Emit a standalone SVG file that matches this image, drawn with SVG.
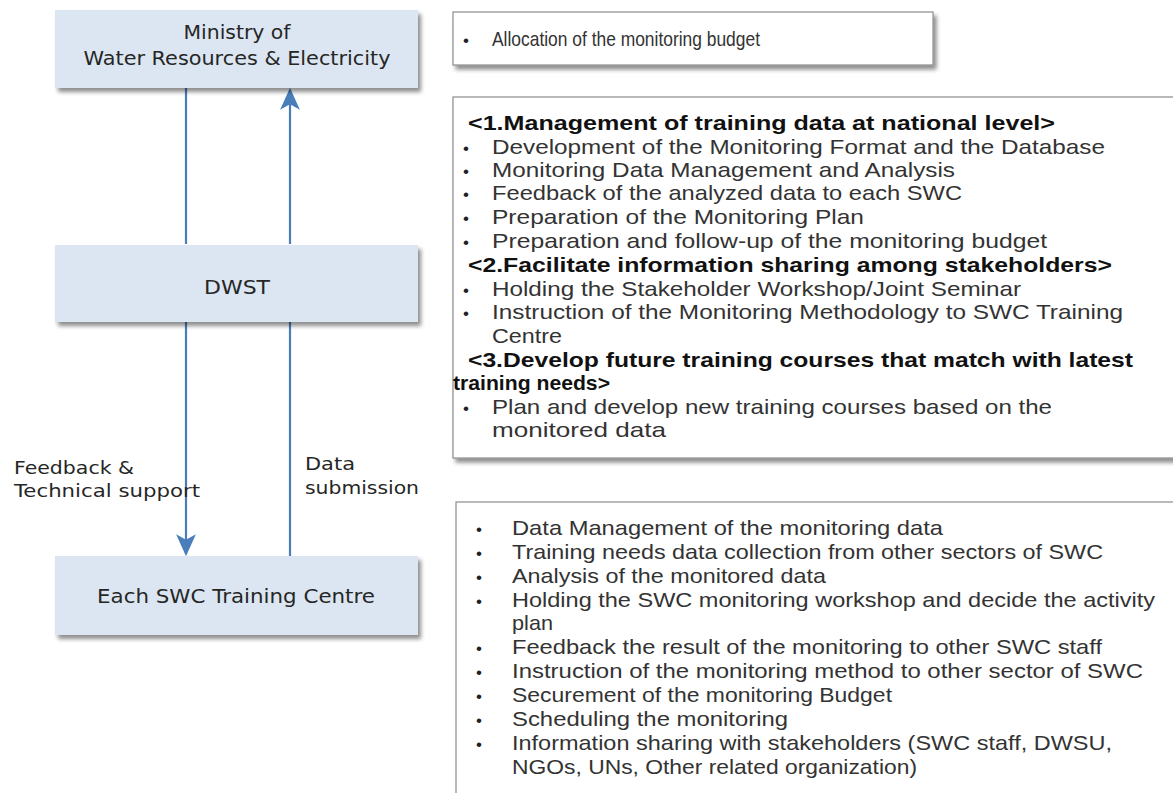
<svg xmlns="http://www.w3.org/2000/svg" width="1173" height="793" viewBox="0 0 1173 793">
<style>
.node{fill:#dce6f2;}
.nt{font-family:"DejaVu Sans","Open Sans",sans-serif;font-size:20px;fill:#262626;}
.lb{font-family:"DejaVu Sans","Open Sans",sans-serif;font-size:18px;fill:#262626;}
.box{fill:#ffffff;stroke:#8c8c8c;stroke-width:1.2;}
.tx{font-family:"Liberation Sans",Arial,sans-serif;font-size:21px;fill:#333333;}
.hd{font-family:"Liberation Sans",Arial,sans-serif;font-size:21px;font-weight:bold;fill:#111111;}
.bu{font-family:"Liberation Sans",Arial,sans-serif;font-size:17px;fill:#222222;}
.cn{stroke:#4a7ebb;stroke-width:2.2;fill:none;}
</style>
<defs>
<filter id="sh" x="-5%" y="-10%" width="115%" height="130%">
<feGaussianBlur in="SourceAlpha" stdDeviation="2"/>
<feOffset dx="3" dy="4"/>
<feComponentTransfer><feFuncA type="linear" slope="0.45"/></feComponentTransfer>
<feMerge><feMergeNode/><feMergeNode in="SourceGraphic"/></feMerge>
</filter>
<marker id="ah" viewBox="0 0 20 20" refX="18" refY="10" markerWidth="10" markerHeight="10" markerUnits="strokeWidth" orient="auto">
<path d="M0,1 L20,10 L0,19 L5,10 Z" fill="#4a7ebb"/>
</marker>
</defs>

<g id="connectors">
<line class="cn" x1="186" y1="88" x2="186" y2="244"/>
<line class="cn" x1="290" y1="244" x2="290" y2="90" marker-end="url(#ah)"/>
<line class="cn" x1="186" y1="322" x2="186" y2="554" marker-end="url(#ah)"/>
<line class="cn" x1="290" y1="556" x2="290" y2="322"/>
</g>

<g id="ministry">
<rect class="node" x="55" y="10" width="363" height="78" filter="url(#sh)"/>
<text class="nt" x="237" y="39" text-anchor="middle" textLength="107" lengthAdjust="spacingAndGlyphs">Ministry of</text>
<text class="nt" x="237" y="65" text-anchor="middle" textLength="307" lengthAdjust="spacingAndGlyphs">Water Resources &amp; Electricity</text>
</g>

<g id="dwst">
<rect class="node" x="55" y="245" width="363" height="77" filter="url(#sh)"/>
<text class="nt" x="237" y="294" text-anchor="middle" textLength="66" lengthAdjust="spacingAndGlyphs">DWST</text>
</g>

<g id="swc">
<rect class="node" x="55" y="556" width="363" height="79" filter="url(#sh)"/>
<text class="nt" x="236" y="603" text-anchor="middle" textLength="278" lengthAdjust="spacingAndGlyphs">Each SWC Training Centre</text>
</g>

<g id="label-feedback">
<text class="lb" x="14" y="474" textLength="120" lengthAdjust="spacingAndGlyphs">Feedback &amp;</text>
<text class="lb" x="14" y="497" textLength="186" lengthAdjust="spacingAndGlyphs">Technical support</text>
</g>
<g id="label-data">
<text class="lb" x="305" y="470" textLength="50" lengthAdjust="spacingAndGlyphs">Data</text>
<text class="lb" x="305" y="494" textLength="114" lengthAdjust="spacingAndGlyphs">submission</text>
</g>

<g id="box-ministry">
<rect class="box" x="453" y="12" width="480" height="53" filter="url(#sh)"/>
<text class="bu" x="463" y="46">•</text>
<text class="tx" x="492" y="46" textLength="268" lengthAdjust="spacingAndGlyphs">Allocation of the monitoring budget</text>
</g>

<g id="box-dwst">
<rect class="box" x="453" y="97" width="730" height="361" filter="url(#sh)"/>
<text class="hd" x="468" y="130" textLength="587" lengthAdjust="spacingAndGlyphs">&lt;1.Management of training data at national level&gt;</text>
<text class="bu" x="463" y="154">•</text>
<text class="tx" x="492" y="154" textLength="613" lengthAdjust="spacingAndGlyphs">Development of the Monitoring Format and the Database</text>
<text class="bu" x="463" y="177">•</text>
<text class="tx" x="492" y="177" textLength="463" lengthAdjust="spacingAndGlyphs">Monitoring Data Management and Analysis</text>
<text class="bu" x="463" y="200">•</text>
<text class="tx" x="492" y="200" textLength="470" lengthAdjust="spacingAndGlyphs">Feedback of the analyzed data to each SWC</text>
<text class="bu" x="463" y="224">•</text>
<text class="tx" x="492" y="224" textLength="372" lengthAdjust="spacingAndGlyphs">Preparation of the Monitoring Plan</text>
<text class="bu" x="463" y="248">•</text>
<text class="tx" x="492" y="248" textLength="555" lengthAdjust="spacingAndGlyphs">Preparation and follow-up of the monitoring budget</text>
<text class="hd" x="468" y="272" textLength="644" lengthAdjust="spacingAndGlyphs">&lt;2.Facilitate information sharing among stakeholders&gt;</text>
<text class="bu" x="463" y="296">•</text>
<text class="tx" x="492" y="296" textLength="529" lengthAdjust="spacingAndGlyphs">Holding the Stakeholder Workshop/Joint Seminar</text>
<text class="bu" x="463" y="319">•</text>
<text class="tx" x="492" y="319" textLength="631" lengthAdjust="spacingAndGlyphs">Instruction of the Monitoring Methodology to SWC Training</text>
<text class="tx" x="492" y="343" textLength="70" lengthAdjust="spacingAndGlyphs">Centre</text>
<text class="hd" x="468" y="367" textLength="665" lengthAdjust="spacingAndGlyphs">&lt;3.Develop future training courses that match with latest</text>
<text class="hd" x="453" y="390" textLength="157" lengthAdjust="spacingAndGlyphs">training needs&gt;</text>
<text class="bu" x="463" y="414">•</text>
<text class="tx" x="492" y="414" textLength="560" lengthAdjust="spacingAndGlyphs">Plan and develop new training courses based on the</text>
<text class="tx" x="492" y="437" textLength="174" lengthAdjust="spacingAndGlyphs">monitored data</text>
</g>

<g id="box-swc">
<rect class="box" x="456" y="502" width="730" height="310"/>
<text class="bu" x="476" y="535">•</text>
<text class="tx" x="512" y="535" textLength="431" lengthAdjust="spacingAndGlyphs">Data Management of the monitoring data</text>
<text class="bu" x="476" y="559">•</text>
<text class="tx" x="512" y="559" textLength="591" lengthAdjust="spacingAndGlyphs">Training needs data collection from other sectors of SWC</text>
<text class="bu" x="476" y="583">•</text>
<text class="tx" x="512" y="583" textLength="314" lengthAdjust="spacingAndGlyphs">Analysis of the monitored data</text>
<text class="bu" x="476" y="607">•</text>
<text class="tx" x="512" y="607" textLength="643" lengthAdjust="spacingAndGlyphs">Holding the SWC monitoring workshop and decide the activity</text>
<text class="tx" x="512" y="630" textLength="41" lengthAdjust="spacingAndGlyphs">plan</text>
<text class="bu" x="476" y="654">•</text>
<text class="tx" x="512" y="654" textLength="590" lengthAdjust="spacingAndGlyphs">Feedback the result of the monitoring to other SWC staff</text>
<text class="bu" x="476" y="678">•</text>
<text class="tx" x="512" y="678" textLength="631" lengthAdjust="spacingAndGlyphs">Instruction of the monitoring method to other sector of SWC</text>
<text class="bu" x="476" y="702">•</text>
<text class="tx" x="512" y="702" textLength="380" lengthAdjust="spacingAndGlyphs">Securement of the monitoring Budget</text>
<text class="bu" x="476" y="726">•</text>
<text class="tx" x="512" y="726" textLength="276" lengthAdjust="spacingAndGlyphs">Scheduling the monitoring</text>
<text class="bu" x="476" y="750">•</text>
<text class="tx" x="512" y="750" textLength="600" lengthAdjust="spacingAndGlyphs">Information sharing with stakeholders (SWC staff, DWSU,</text>
<text class="tx" x="512" y="774" textLength="405" lengthAdjust="spacingAndGlyphs">NGOs, UNs, Other related organization)</text>
</g>
</svg>
